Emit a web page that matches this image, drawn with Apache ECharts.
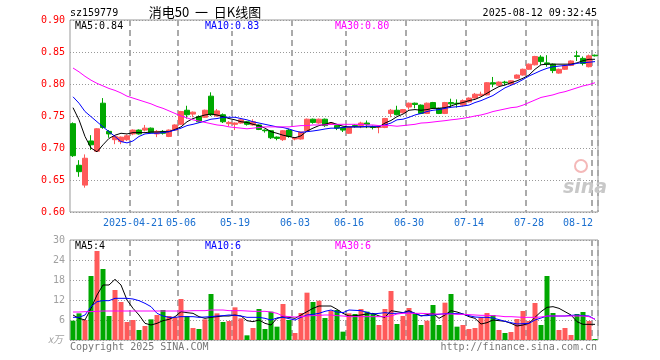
<!DOCTYPE html>
<html><head><meta charset="utf-8">
<script src="https://cdn.jsdelivr.net/npm/echarts@6/dist/echarts.min.js"></script>
<style>html,body{margin:0;padding:0;background:#fff}#c{width:660px;height:360px}</style>
</head><body><div id="c"></div>
<script>
const dates = ['2025-04-07','2025-04-08','2025-04-09','2025-04-10','2025-04-11','2025-04-14','2025-04-15','2025-04-16','2025-04-17','2025-04-18',
'2025-04-21','2025-04-22','2025-04-23','2025-04-24','2025-04-25','2025-04-28','2025-04-29','2025-04-30','2025-05-06','2025-05-07',
'2025-05-08','2025-05-09','2025-05-12','2025-05-13','2025-05-14','2025-05-15','2025-05-16','2025-05-19','2025-05-20','2025-05-21',
'2025-05-22','2025-05-23','2025-05-26','2025-05-27','2025-05-28','2025-05-29','2025-05-30','2025-06-03','2025-06-04','2025-06-05',
'2025-06-06','2025-06-09','2025-06-10','2025-06-11','2025-06-12','2025-06-13','2025-06-16','2025-06-17','2025-06-18','2025-06-19',
'2025-06-20','2025-06-23','2025-06-24','2025-06-25','2025-06-26','2025-06-27','2025-06-30','2025-07-01','2025-07-02','2025-07-03',
'2025-07-04','2025-07-07','2025-07-08','2025-07-09','2025-07-10','2025-07-11','2025-07-14','2025-07-15','2025-07-16','2025-07-17',
'2025-07-18','2025-07-21','2025-07-22','2025-07-23','2025-07-24','2025-07-25','2025-07-28','2025-07-29','2025-07-30','2025-07-31',
'2025-08-01','2025-08-04','2025-08-05','2025-08-06','2025-08-07','2025-08-08','2025-08-11','2025-08-12'];

const tickDates = ['2025-04-21','2025-05-06','2025-05-19','2025-06-03','2025-06-16','2025-06-30','2025-07-14','2025-07-28','2025-08-12'];

const opens = [0.738,0.673,0.642,0.711,0.695,0.770,0.726,0.713,0.710,0.713,
0.722,0.728,0.728,0.731,0.722,0.726,0.718,0.728,0.737,0.759,
0.753,0.749,0.748,0.781,0.750,0.752,0.738,0.737,0.739,0.741,
0.736,0.736,0.728,0.727,0.717,0.713,0.728,0.714,0.714,0.727,
0.745,0.739,0.745,0.737,0.735,0.732,0.723,0.735,0.735,0.739,
0.733,0.732,0.732,0.754,0.759,0.755,0.764,0.770,0.767,0.754,
0.771,0.762,0.754,0.771,0.770,0.767,0.772,0.778,0.782,0.783,
0.802,0.798,0.803,0.800,0.809,0.814,0.823,0.830,0.842,0.833,
0.831,0.817,0.823,0.829,0.844,0.840,0.827,0.845];
const closes = [0.688,0.663,0.684,0.705,0.730,0.732,0.722,0.718,0.717,0.719,
0.728,0.722,0.731,0.724,0.726,0.723,0.728,0.736,0.757,0.752,
0.756,0.741,0.759,0.752,0.758,0.741,0.740,0.739,0.744,0.737,
0.741,0.729,0.727,0.716,0.715,0.727,0.718,0.716,0.725,0.745,
0.740,0.745,0.735,0.739,0.731,0.728,0.732,0.734,0.739,0.737,
0.732,0.733,0.746,0.759,0.752,0.760,0.770,0.768,0.754,0.770,
0.762,0.754,0.771,0.769,0.769,0.774,0.778,0.784,0.784,0.802,
0.800,0.803,0.802,0.805,0.814,0.823,0.831,0.843,0.835,0.831,
0.821,0.823,0.829,0.836,0.843,0.832,0.844,0.844];
const lows = [0.686,0.655,0.638,0.697,0.694,0.730,0.716,0.706,0.706,0.711,
0.720,0.721,0.726,0.723,0.717,0.721,0.717,0.727,0.736,0.746,
0.748,0.740,0.747,0.750,0.749,0.739,0.734,0.728,0.738,0.735,
0.735,0.728,0.724,0.714,0.712,0.711,0.716,0.712,0.713,0.726,
0.738,0.738,0.733,0.736,0.728,0.725,0.722,0.732,0.731,0.731,
0.729,0.723,0.731,0.748,0.751,0.754,0.760,0.762,0.753,0.753,
0.761,0.753,0.753,0.763,0.763,0.765,0.771,0.777,0.781,0.782,
0.795,0.797,0.798,0.799,0.808,0.813,0.822,0.829,0.830,0.827,
0.817,0.816,0.822,0.828,0.836,0.829,0.826,0.843];
const highs = [0.740,0.681,0.690,0.720,0.731,0.778,0.728,0.720,0.718,0.721,
0.729,0.729,0.736,0.732,0.728,0.728,0.729,0.737,0.758,0.766,
0.757,0.751,0.760,0.787,0.761,0.754,0.742,0.740,0.745,0.742,
0.745,0.737,0.729,0.728,0.718,0.728,0.730,0.717,0.725,0.746,
0.746,0.746,0.746,0.740,0.736,0.733,0.733,0.737,0.741,0.743,
0.735,0.734,0.747,0.761,0.766,0.761,0.771,0.771,0.768,0.771,
0.772,0.763,0.772,0.777,0.776,0.776,0.779,0.786,0.788,0.803,
0.811,0.804,0.805,0.806,0.815,0.824,0.832,0.844,0.845,0.845,
0.832,0.824,0.830,0.837,0.852,0.843,0.846,0.846];

const ma5 = [0.763,0.744,0.718,0.700,0.694,0.705,0.715,0.720,0.723,0.722,
0.724,0.724,0.724,0.725,0.725,0.7255,0.7255,0.729,0.733,0.741,
0.746,0.749,0.7516,0.753,0.7516,0.749,0.746,0.744,0.741,0.740,
0.737,0.735,0.731,0.7255,0.723,0.720,0.718,0.716,0.719,0.7266,
0.731,0.735,0.737,0.740,0.737,0.734,0.733,0.733,0.733,0.733,
0.733,0.733,0.739,0.743,0.749,0.753,0.759,0.760,0.759,0.760,
0.762,0.762,0.763,0.7656,0.769,0.771,0.774,0.776,0.780,0.7855,
0.791,0.796,0.7984,0.802,0.805,0.809,0.814,0.823,0.830,0.831,
0.831,0.831,0.831,0.831,0.833,0.8364,0.8386,0.8386];
const ma10 = [0.780,0.770,0.757,0.749,0.741,0.733,0.7255,0.718,0.710,0.708,
0.711,0.718,0.722,0.723,0.723,0.724,0.7255,0.728,0.731,0.735,
0.737,0.7395,0.742,0.745,0.746,0.748,0.748,0.748,0.746,0.744,
0.741,0.739,0.737,0.735,0.733,0.732,0.7297,0.7266,0.7245,0.7255,
0.7266,0.728,0.7297,0.731,0.731,0.732,0.733,0.733,0.733,0.734,
0.734,0.734,0.736,0.739,0.744,0.745,0.748,0.7516,0.754,0.757,
0.759,0.760,0.762,0.7636,0.7645,0.7656,0.767,0.771,0.774,0.778,
0.782,0.788,0.794,0.798,0.802,0.807,0.8125,0.8167,0.821,0.8245,
0.827,0.828,0.829,0.830,0.8323,0.8333,0.834,0.835];
const ma30 = [0.825,0.819,0.812,0.806,0.801,0.797,0.793,0.790,0.786,0.781,
0.778,0.775,0.772,0.769,0.765,0.762,0.758,0.754,0.750,0.747,
0.744,0.742,0.740,0.738,0.736,0.735,0.733,0.732,0.731,0.730,
0.731,0.732,0.733,0.733,0.733,0.733,0.733,0.734,0.735,0.735,
0.736,0.736,0.736,0.737,0.737,0.737,0.737,0.737,0.737,0.736,
0.736,0.735,0.735,0.735,0.734,0.735,0.736,0.737,0.739,0.7395,
0.7406,0.7417,0.7427,0.744,0.745,0.7464,0.748,0.750,0.7516,0.754,
0.757,0.759,0.761,0.763,0.764,0.767,0.771,0.775,0.779,0.781,
0.783,0.786,0.788,0.791,0.794,0.797,0.799,0.802];

const volume = [5.8,8.0,6.0,19.2,28.2,21.3,7.2,15.0,11.4,5.4,
6.0,3.0,4.2,6.2,7.5,9.0,7.2,6.8,12.3,7.2,
3.6,3.3,6.2,13.8,8.0,5.4,5.7,9.8,6.5,1.4,
3.6,9.3,3.3,8.5,4.0,10.8,6.0,2.1,8.1,14.2,
11.4,11.8,6.6,8.8,9.0,2.5,8.0,7.8,9.3,8.5,
8.0,4.5,9.3,14.7,4.8,7.2,9.6,8.0,4.5,5.8,
10.5,4.5,11.2,13.8,4.0,4.5,3.3,3.6,6.8,8.1,
7.5,3.0,2.1,2.4,6.3,8.7,5.7,11.1,4.5,19.2,
8.1,3.0,3.6,1.5,7.8,8.4,5.7,0.3];
const volMa5 = [7.5,6.5,6.0,9.5,13.5,16.5,16.5,18.2,16.5,12.0,
9.5,7.5,5.0,4.5,5.0,5.8,6.2,7.0,8.5,8.2,
8.0,7.0,6.5,6.8,7.0,7.2,7.2,7.5,7.2,5.8,
5.5,6.0,5.0,4.5,6.5,7.0,6.8,6.5,7.5,8.5,
9.5,10.2,10.2,10.2,9.2,8.0,7.2,7.3,7.5,7.8,
8.0,7.2,6.8,8.8,8.5,8.2,8.8,8.0,7.2,7.6,
8.0,6.5,7.5,8.8,8.4,7.8,7.0,6.5,4.8,5.2,
6.0,5.8,5.6,5.0,4.2,4.5,5.0,6.8,8.5,9.8,
10.0,9.5,8.5,7.5,5.5,4.7,4.7,4.7];
const volMa10 = [6.8,6.8,7.5,10.0,11.5,11.8,11.8,12.5,12.5,12.5,
12.3,11.8,11.0,10.0,8.0,7.2,6.8,6.8,7.0,7.0,
7.0,6.8,6.9,7.0,7.2,7.3,7.5,7.4,7.2,6.8,
6.8,6.8,6.5,6.0,6.6,6.8,6.4,6.0,6.8,7.5,
7.7,8.0,8.6,9.0,8.4,8.2,9.0,8.9,8.8,8.3,
7.8,8.0,8.2,8.0,8.0,8.2,8.5,8.0,7.3,7.3,
7.5,7.7,7.9,8.0,7.9,7.8,7.3,6.9,6.8,6.8,
6.6,6.1,5.6,5.2,4.8,4.9,5.0,6.0,6.6,7.2,
7.2,7.2,7.2,7.4,7.5,7.3,7.2,6.2];
const volMa30 = [8.4,8.4,8.5,8.5,8.6,8.7,8.7,8.7,8.7,8.7,
8.7,8.7,8.7,8.7,8.7,8.7,8.7,8.7,8.7,8.7,
8.8,8.8,8.8,9.0,9.0,9.0,8.8,8.8,8.8,8.7,
8.6,8.6,8.6,8.4,8.0,7.2,7.0,6.9,7.0,7.2,
7.3,7.4,7.5,7.5,7.3,7.2,7.0,7.0,7.0,7.0,
7.0,7.0,7.0,7.2,7.8,8.0,8.0,8.0,8.0,7.9,
7.8,7.8,7.8,7.8,7.7,7.7,7.6,7.5,7.4,7.4,
7.3,7.2,7.0,7.0,6.9,6.8,6.8,6.8,6.9,7.2,
7.2,7.2,7.2,7.2,7.2,7.2,7.0,6.2];

const UP = '#ff5a5a', DOWN = '#00a800';
const MONO = "'DejaVu Sans Mono', monospace";
const tickSet = new Set(tickDates);

const kData = dates.map((d, i) => [opens[i], closes[i], lows[i], highs[i]]);
const volData = volume.map((v, i) => ({ value: v, itemStyle: { color: closes[i] >= opens[i] ? UP : DOWN } }));

const vSplit = { show: true, interval: (idx, val) => tickSet.has(dates[idx]), lineStyle: { type: [6, 4], color: '#aaaaaa', width: 2 } };
const hSplit = { show: true, lineStyle: { type: [1, 2], color: '#999999', width: 1 } };

function lineSeries(data, color, xi, yi) {
  return { type: 'line', data, xAxisIndex: xi, yAxisIndex: yi, showSymbol: false, symbol: 'none', silent: true,
    lineStyle: { color, width: 1 }, z: 5 };
}
function txt(x, y, text, fill, opts) {
  return Object.assign({ type: 'text', x, y, z: 100,
    style: Object.assign({ text, fill, font: '10px ' + MONO, align: 'left', verticalAlign: 'middle' }, opts || {}) });
}

const chart = echarts.init(document.getElementById('c'), null, { renderer: 'canvas' });
chart.setOption({
  animation: false,
  backgroundColor: '#fff',
  grid: [
    { left: 70, width: 528, top: 20, height: 192, show: true, borderColor: '#999', borderWidth: 1, backgroundColor: 'transparent' },
    { left: 70, width: 528, top: 240, height: 100, show: true, borderColor: '#999', borderWidth: 1, backgroundColor: 'transparent' }
  ],
  xAxis: [
    { type: 'category', data: dates, gridIndex: 0, boundaryGap: true,
      axisLine: { show: false }, axisTick: { show: false }, splitLine: vSplit,
      axisLabel: { interval: (idx, val) => tickSet.has(val), color: '#1a6fd0', fontFamily: MONO, fontSize: 10, margin: 6,
        formatter: (val) => val === tickDates[0] ? val : (val === tickDates[tickDates.length - 1] ? '{r|' + val.slice(5) + '}' : val.slice(5)),
        rich: { r: { color: '#1a6fd0', fontFamily: MONO, fontSize: 10, padding: [0, 34, 0, 0] } } } },
    { type: 'category', data: dates, gridIndex: 1, boundaryGap: true,
      axisLine: { show: false }, axisTick: { show: false }, axisLabel: { show: false }, splitLine: vSplit }
  ],
  yAxis: [
    { type: 'value', gridIndex: 0, min: 0.6, max: 0.9, interval: 0.05, scale: true,
      axisLine: { show: false }, axisTick: { show: false }, splitLine: hSplit,
      axisLabel: { color: '#ff0000', fontFamily: MONO, fontSize: 10, margin: 5, formatter: v => v.toFixed(2) } },
    { type: 'value', gridIndex: 1, min: 0, max: 30, interval: 6,
      axisLine: { show: false }, axisTick: { show: false }, splitLine: hSplit,
      axisLabel: { color: '#a0a0a0', fontFamily: MONO, fontSize: 10, margin: 5, formatter: v => v === 0 ? '' : String(v) } }
  ],
  series: [
    { type: 'candlestick', data: kData, xAxisIndex: 0, yAxisIndex: 0, barWidth: 5, silent: true,
      itemStyle: { color: UP, color0: DOWN, borderColor: UP, borderColor0: DOWN, borderWidth: 1 } },
    lineSeries(ma5, '#000000', 0, 0),
    lineSeries(ma10, '#0000ff', 0, 0),
    lineSeries(ma30, '#ff00ff', 0, 0),
    { type: 'bar', data: volData, xAxisIndex: 1, yAxisIndex: 1, barWidth: 5, silent: true },
    lineSeries(volMa5, '#000000', 1, 1),
    lineSeries(volMa10, '#0000ff', 1, 1),
    lineSeries(volMa30, '#ff00ff', 1, 1)
  ],
  graphic: [
    txt(70, 13, 'sz159779', '#000'),
    txt(205, 12, '消电50  一  日K线图', '#000', { font: "13px 'Noto Sans CJK SC'", align: 'center' }),
    txt(597, 13, '2025-08-12 09:32:45', '#000', { align: 'right' }),
    txt(75, 26, 'MA5:0.84', '#000', { backgroundColor: '#fff' }),
    txt(205, 26, 'MA10:0.83', '#0000ff', { backgroundColor: '#fff' }),
    txt(335, 26, 'MA30:0.80', '#ff00ff', { backgroundColor: '#fff' }),
    txt(75, 246, 'MA5:4', '#000', { backgroundColor: '#fff' }),
    txt(205, 246, 'MA10:6', '#0000ff', { backgroundColor: '#fff' }),
    txt(335, 246, 'MA30:6', '#ff00ff', { backgroundColor: '#fff' }),
    txt(48, 339, 'x万', '#a0a0a0', { font: "italic 10px 'Noto Sans CJK SC'" }),
    txt(70, 347, 'Copyright 2025 SINA.COM', '#777'),
    txt(597, 347, 'http://finance.sina.com.cn', '#777', { align: 'right' }),
    txt(563, 188, 'sina', '#c8c8c8', { font: "italic bold 19px 'DejaVu Sans'" }),
    { type: 'circle', x: 581, y: 166, z: 99, shape: { r: 6 }, style: { fill: 'none', stroke: '#f4b8b8', lineWidth: 2 } }
  ]
});
</script>
</body></html>
